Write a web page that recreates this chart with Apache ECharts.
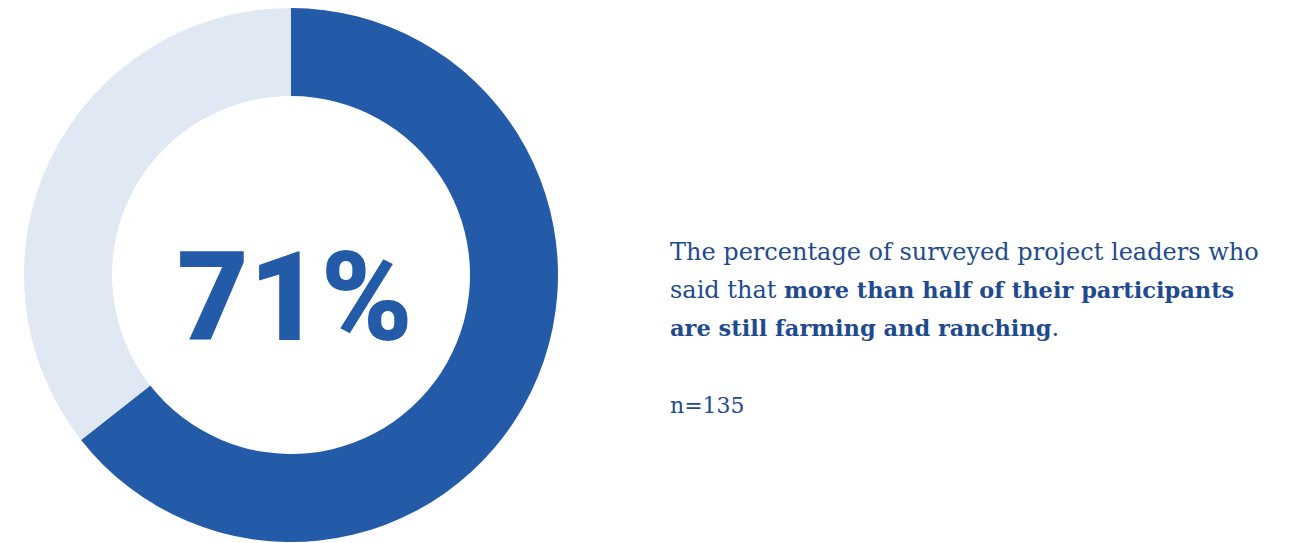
<!DOCTYPE html>
<html>
<head>
<meta charset="utf-8">
<script src="https://cdn.jsdelivr.net/npm/echarts@6/dist/echarts.min.js"></script>
<style>
  html, body { margin: 0; padding: 0; background: #fff; }
  #chart { width: 1290px; height: 543px; }
</style>
</head>
<body>
<div id="chart"></div>
<script>
// Ring segments as drawn in the source graphic (the arc covers ~64% of the circle).
const segmentNames = ['More than half still farming', 'Other'];
const segmentValues = [64.4, 35.6];
const segmentColors = ['#235ba8', '#dfe8f3'];

const headline = '71%';
const sampleSize = 135;

const TEXT_BLUE = '#1f4b8e';

const chart = echarts.init(document.getElementById('chart'), null, { renderer: 'svg' });

chart.setOption({
    animation: false,
    backgroundColor: '#fff',
    series: [{
        type: 'pie',
        silent: true,
        center: [291, 275],
        radius: [179, 267],
        startAngle: 90,
        clockwise: true,
        label: { show: false },
        labelLine: { show: false },
        data: segmentNames.map((name, i) => ({
            name,
            value: segmentValues[i],
            itemStyle: { color: segmentColors[i] },
        })),
    }],
    graphic: [
        {
            type: 'text',
            x: 295,
            y: 297,
            style: {
                text: headline,
                fill: '#235ba8',
                font: '900 124px Roboto',
                textAlign: 'center',
                textVerticalAlign: 'middle',
            },
        },
        {
            type: 'text',
            x: 670,
            y: 233,
            style: {
                text: 'The percentage of surveyed project leaders who\nsaid that {b|more than half of their participants}\n{b|are still farming and ranching}.',
                fill: TEXT_BLUE,
                fontFamily: 'DejaVu Serif',
                fontSize: 24,
                lineHeight: 38,
                rich: {
                    b: { fontWeight: 'bold', fontFamily: 'DejaVu Serif', fontSize: 22.5, fill: TEXT_BLUE, lineHeight: 38 },
                },
            },
        },
        {
            type: 'text',
            x: 670,
            y: 394,
            style: {
                text: 'n=' + sampleSize,
                fill: TEXT_BLUE,
                fontFamily: 'DejaVu Serif',
                fontSize: 22,
            },
        },
    ],
});
</script>
</body>
</html>
